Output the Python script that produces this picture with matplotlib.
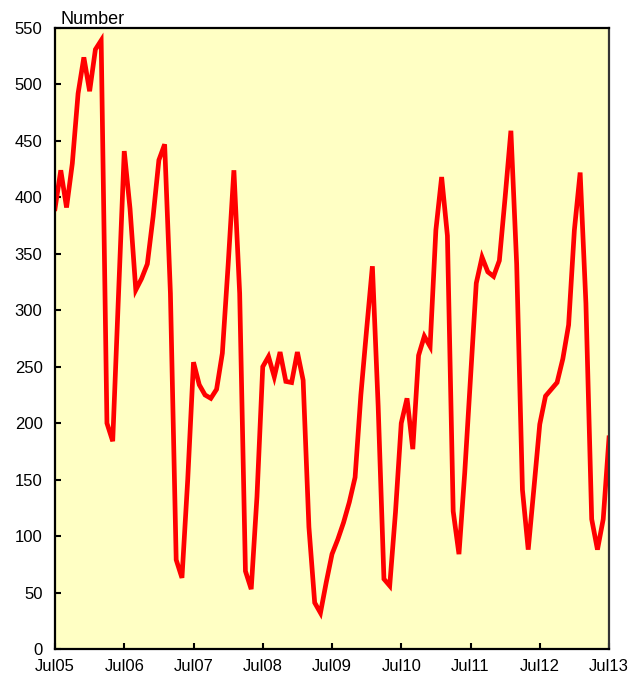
import matplotlib
matplotlib.use("Agg")
import matplotlib.pyplot as plt
import numpy as np

plt.rcParams['font.family'] = ['Liberation Sans', 'DejaVu Sans']

# monthly values, Jul05 .. Jul13
values = [390, 424, 391, 430, 492, 524, 494, 531, 539, 200, 184, 313,
          441, 390, 318, 328, 341, 383, 433, 447, 315, 79, 63, 150,
          254, 234, 225, 222, 230, 262, 340, 424, 315, 69, 53, 135,
          250, 259, 241, 263, 237, 236, 263, 238, 108, 41, 32, 59,
          84, 97, 112, 130, 152, 225, 283, 339, 215, 62, 56, 121,
          200, 222, 177, 260, 277, 268, 371, 418, 366, 122, 84, 156,
          240, 324, 347, 334, 330, 344, 400, 459, 341, 141, 88, 143,
          199, 224, 230, 236, 257, 287, 371, 422, 306, 115, 88, 115,
          187]
tick_labels = ['Jul05', 'Jul06', 'Jul07', 'Jul08', 'Jul09',
               'Jul10', 'Jul11', 'Jul12', 'Jul13']

months = np.arange(len(values))

fig = plt.figure(figsize=(6.36, 6.75), dpi=100)
ax = fig.add_axes([55/636, 26/675, 554/636, 621/675])
ax.set_facecolor('#FFFFC4')

ax.plot(months, values, color='#FF0000', lw=3.4, solid_joinstyle='miter')

ax.set_xlim(0, 96)
ax.set_ylim(0, 550)
ax.set_xticks(np.arange(0, 97, 12))
ax.set_xticklabels(tick_labels)
ax.set_yticks(np.arange(0, 551, 50))

ax.tick_params(direction='in', length=4, width=1.5, labelsize=12, colors='black')
ax.tick_params(axis='x', pad=7.5)
ax.tick_params(axis='y', pad=9)
for s in ax.spines.values():
    s.set_linewidth(1.6)
    s.set_color('black')
ax.spines['right'].set_color('#333333')

fig.text(60/636, 1 - 24/675, 'Number', fontsize=13, ha='left', va='baseline')

fig.savefig('out.png', dpi=100)
